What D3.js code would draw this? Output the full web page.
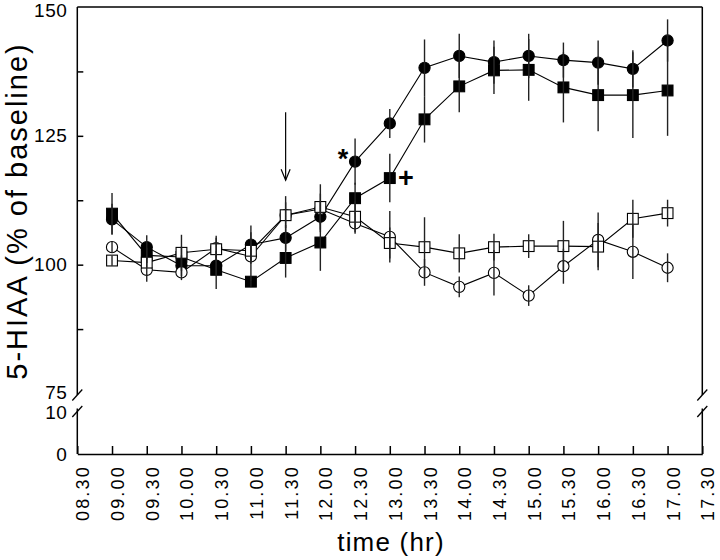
<!DOCTYPE html>
<html><head><meta charset="utf-8">
<script src="https://cdn.jsdelivr.net/npm/d3@7"></script>
<style>
body{margin:0;background:#fff}
svg{display:block;background:#fff}
text{font-family:"Liberation Sans",Arial,Helvetica,sans-serif;fill:#000}
</style>
</head><body>
<svg id="chart" width="720" height="560"></svg>
<script>
// ---- data ----
const xTickLabels = ["08.30","09.00","09.30","10.00","10.30","11.00","11.30","12.00","12.30","13.00","13.30","14.00","14.30","15.00","15.30","16.00","16.30","17.00","17.30"];
const times = ["09.00","09.30","10.00","10.30","11.00","11.30","12.00","12.30","13.00","13.30","14.00","14.30","15.00","15.30","16.00","16.30","17.00"];
const yUpperTicks = [75, 87.5, 100, 112.5, 125, 137.5, 150];
const yLowerTicks = [0, 10];

const filledCircle    = [108.8,103.4, 99.8, 99.8,103.9,105.2,109.3,120.0,127.4,138.2,140.5,139.3,140.5,139.7,139.2,138.0,143.5];
const filledCircleSem = [  3.0,  2.3,  2.0,  2.0,  3.7,  2.5,  3.0,  4.5,  2.8,  5.5,  4.3,  4.2,  4.3,  3.4,  4.3,  3.6,  4.1];
const filledSquare    = [109.9,101.8,101.5, 99.0, 96.7,101.3,104.3,112.9,116.8,128.2,134.6,137.7,137.8,134.4,132.9,132.9,133.8];
const filledSquareSem = [  4.0,  1.5,  2.0,  3.7,  1.0,  3.8,  5.5,  3.0,  4.7,  4.5,  5.0,  4.6,  6.0,  6.8,  7.0,  8.3,  8.8];
const openCircle      = [103.4, 99.0, 98.5,103.2,101.6,109.6,110.8,108.0,105.4, 98.5, 95.7, 98.4, 94.0, 99.7,104.8,102.5, 99.4];
const openCircleSem   = [  1.0,  2.3,  1.5,  2.0,  4.7,  2.5,  3.0,  2.0,  5.0,  2.6,  2.0,  4.4,  2.0,  3.4,  5.3,  5.3,  2.8];
const openSquare      = [100.8,100.4,102.3,103.0,102.7,109.6,111.2,109.3,104.2,103.4,102.2,103.4,103.6,103.6,103.5,108.9,110.0];
const openSquareSem   = [  1.0,  1.0,  3.5,  2.6,  2.0,  3.7,  4.4,  3.0,  3.0,  5.8,  3.7,  2.6,  2.3,  4.9,  4.6,  3.7,  2.6];

const arrowTime = "11.30";
const arrowFromValue = 129.6;
const arrowToValue = 116.4;
const annotationTexts = ["*", "+"];
const annotationTimes = ["12.30", "13.00"];

const yTitle = "5-HIAA (% of baseline)";
const xTitle = "time (hr)";

// ---- chart ----
const svg = d3.select("#chart");
const x = d3.scalePoint().domain(xTickLabels).range([77.3, 702.3]);
const yUp = d3.scaleLinear().domain([75, 150]).range([393.5, 7]);
const yLow = d3.scaleLinear().domain([0, 10]).range([454, 412.5]);

const series = [
  {name:"filledCircle", vals:filledCircle, sem:filledCircleSem, shape:"circle", filled:true},
  {name:"filledSquare", vals:filledSquare, sem:filledSquareSem, shape:"square", filled:true},
  {name:"openCircle",   vals:openCircle,   sem:openCircleSem,   shape:"circle", filled:false},
  {name:"openSquare",   vals:openSquare,   sem:openSquareSem,   shape:"square", filled:false}
];
series.forEach(s => s.pts = times.map((t,i) => ({t, v:s.vals[i], e:s.sem[i]})));

const xLeft = x(xTickLabels[0]), xRight = x(xTickLabels[xTickLabels.length-1]);

// frame: top and right
const frame = svg.append("g").attr("stroke","#000").attr("stroke-width",1.5).attr("fill","none");
frame.append("line").attr("x1",xLeft).attr("x2",xRight).attr("y1",yUp(150)).attr("y2",yUp(150));
frame.append("line").attr("x1",xRight).attr("x2",xRight).attr("y1",yUp(150)).attr("y2",yUp(75)+1.5);
frame.append("line").attr("x1",xRight).attr("x2",xRight).attr("y1",yLow(10)-4).attr("y2",yLow(0));

// left upper axis
const axUp = svg.append("g").attr("transform",`translate(${xLeft},0)`)
  .call(d3.axisLeft(yUp).tickValues(yUpperTicks).tickSize(-6).tickSizeOuter(0).tickPadding(10)
    .tickFormat(d => d % 25 === 0 ? d : ""));
axUp.selectAll(".tick").filter(d => d === 75 || d === 150).select("line").remove();
axUp.selectAll(".tick").filter(d => d === 150).select("text").attr("dy","0.5em");
axUp.selectAll(".tick").filter(d => d === 75).select("text").attr("dy","0.28em");
const axLow = svg.append("g").attr("transform",`translate(${xLeft},0)`)
  .call(d3.axisLeft(yLow).tickValues(yLowerTicks).tickSize(0).tickSizeOuter(0).tickPadding(10));
[axUp, axLow].forEach(a => {
  a.attr("font-family",null).attr("font-size",null);
  a.selectAll("path,line").attr("stroke","#000").attr("stroke-width",1.5);
  a.selectAll("text").style("font-size","19px").style("letter-spacing","0.5px");
});
axUp.select(".domain").attr("d",`M0,${yUp(75)+1.5}V${yUp(150)}`);
axLow.select(".domain").attr("d",`M0,${yLow(0)}V${yLow(10)-4}`);

// bottom axis
const axB = svg.append("g").attr("transform",`translate(0,${yLow(0)})`)
  .call(d3.axisBottom(x).tickSize(-8).tickSizeOuter(0));
axB.attr("font-family",null).attr("font-size",null);
axB.selectAll("path,line").attr("stroke","#000").attr("stroke-width",1.5);
axB.selectAll("text")
  .attr("y",null).attr("x",null).attr("dy","0.36em")
  .attr("text-anchor","end")
  .attr("transform","translate(5,11) rotate(-90)")
  .style("font-size","18px").style("letter-spacing","2.2px");

// break marks
const breaks = svg.append("g").attr("stroke","#000").attr("stroke-width",1.3);
[xLeft, xRight].forEach(bx => {
  [yUp(75)+1.5, yLow(10)-1].forEach(by => {
    breaks.append("line").attr("x1",bx-5).attr("y1",by+5.5).attr("x2",bx+5).attr("y2",by-5.5);
  });
});

// connecting lines
const line = d3.line().x(d => x(d.t)).y(d => yUp(d.v));
svg.append("g").selectAll("path").data(series).join("path")
  .attr("d", s => line(s.pts)).attr("fill","none").attr("stroke","#000").attr("stroke-width",1.1);

// markers: filled first, then open
const markerOrder = series.filter(s => s.filled).concat(series.filter(s => !s.filled));
const mk = svg.append("g");
markerOrder.forEach(s => {
  const g = mk.append("g");
  if (s.shape === "circle") {
    g.selectAll("circle").data(s.pts).join("circle")
      .attr("cx", d => x(d.t)).attr("cy", d => yUp(d.v)).attr("r", 5.6)
      .attr("fill", s.filled ? "#000" : "#fff").attr("stroke","#000").attr("stroke-width",1.1);
  } else {
    g.selectAll("rect").data(s.pts).join("rect")
      .attr("x", d => x(d.t)-5.4).attr("y", d => yUp(d.v)-5.4).attr("width",10.8).attr("height",10.8)
      .attr("fill", s.filled ? "#000" : "#fff").attr("stroke","#000").attr("stroke-width",1.1);
  }
});

// error bars
const eb = svg.append("g").attr("stroke","#222").attr("stroke-width",1.4);
series.forEach(s => {
  eb.append("g").selectAll("line").data(s.pts).join("line")
    .attr("x1", d => x(d.t)).attr("x2", d => x(d.t))
    .attr("y1", d => yUp(d.v - d.e)).attr("y2", d => yUp(d.v + d.e));
});

// arrow
const ax0 = x(arrowTime), ay0 = yUp(arrowFromValue), ay1 = yUp(arrowToValue);
const arr = svg.append("g").attr("stroke","#000").attr("stroke-width",1.2).attr("fill","none");
arr.append("line").attr("x1",ax0).attr("x2",ax0).attr("y1",ay0).attr("y2",ay1);
arr.append("path").attr("d",`M${ax0-4.5},${ay1-11}L${ax0},${ay1}L${ax0+4.5},${ay1-11}`);

// annotations
const fc = series[0].pts.find(d => d.t === annotationTimes[0]);
svg.append("text").attr("x", x(fc.t)-12).attr("y", yUp(fc.v)+6.5)
  .attr("text-anchor","middle").style("font-size","27px").style("font-weight","bold").text(annotationTexts[0]);
const fs = series[1].pts.find(d => d.t === annotationTimes[1]);
svg.append("text").attr("x", x(fs.t)+16).attr("y", yUp(fs.v)+8.6)
  .attr("text-anchor","middle").style("font-size","27px").style("font-weight","bold").text(annotationTexts[1]);

// titles
svg.append("text").attr("transform","translate(27,211) rotate(-90)").attr("text-anchor","middle")
  .style("font-size","29px").style("letter-spacing","2px").text(yTitle);
svg.append("text").attr("x",391).attr("y",551).attr("text-anchor","middle")
  .style("font-size","26px").style("letter-spacing","1.2px").text(xTitle);
</script>
</body></html>
